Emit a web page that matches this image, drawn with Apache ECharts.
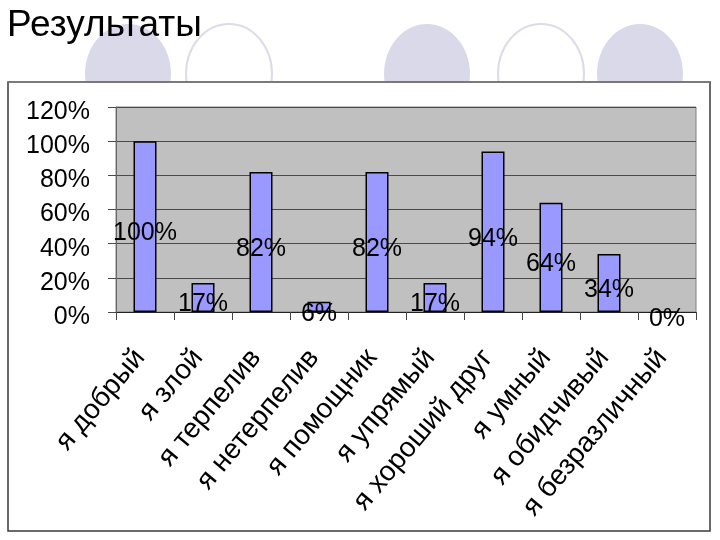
<!DOCTYPE html>
<html><head><meta charset="utf-8">
<script src="https://cdn.jsdelivr.net/npm/echarts@6/dist/echarts.min.js"></script>
<style>html,body{margin:0;padding:0;background:#fff}#c{width:720px;height:540px}</style>
</head><body><div id="c"></div>
<script>
const titleText = 'Результаты';
const categories = ['я добрый','я злой','я терпелив','я нетерпелив','я помощник','я упрямый','я хороший друг','я умный','я обидчивый','я безразличный'];
const values = [100, 17, 82, 6, 82, 17, 94, 64, 34, 0];
const yTicks = {min: 0, max: 120, interval: 20};

const regular = '"Liberation Sans",Arial,sans-serif';

const chart = echarts.init(document.getElementById('c'), null, {renderer: 'canvas'});
const deco = [
  {cx: 128, filled: true}, {cx: 229, filled: false}, {cx: 427, filled: true},
  {cx: 541, filled: false}, {cx: 640, filled: true}
].map(d => ({
  type: 'ellipse', z: -20,
  shape: {cx: d.cx, cy: 74, rx: 43, ry: 50},
  style: d.filled ? {fill: '#d9d9ea'} : {fill: 'none', stroke: '#dcdce8', lineWidth: 2}
}));
chart.setOption({
  backgroundColor: '#fff',
  title: {text: titleText, left: 2, top: 2,
    textStyle: {fontFamily: regular, fontSize: 37, fontWeight: 'normal', color: '#000'}},
  graphic: deco.concat([
    {type: 'rect', z: -10, shape: {x: 8, y: 82, width: 702, height: 449},
     style: {fill: '#fff', stroke: '#3a3a3a', lineWidth: 1.5}},
    {type: 'line', z: -9, shape: {x1: 8, y1: 82, x2: 710, y2: 82},
     style: {stroke: '#808080', lineWidth: 1.5}}
  ]),
  grid: {left: 116, right: 24, top: 107, bottom: 228, show: true,
    backgroundColor: '#c0c0c0', borderColor: '#808080', borderWidth: 1},
  xAxis: {type: 'category', data: categories,
    axisLine: {lineStyle: {color: '#222', width: 1}},
    axisTick: {show: true, length: 8, lineStyle: {color: '#444'}},
    axisLabel: {interval: 0, rotate: 50, margin: 35, padding: [0, 8, 0, 0],
      fontFamily: regular, fontSize: 28, color: '#000'}},
  yAxis: {type: 'value', min: yTicks.min, max: yTicks.max, interval: yTicks.interval,
    axisLine: {show: true, lineStyle: {color: '#666', width: 1}},
    axisTick: {show: true, length: 8, lineStyle: {color: '#4a4a4a'}},
    splitLine: {lineStyle: {color: '#4a4a4a', width: 1}},
    axisLabel: {formatter: '{value}%', margin: 26, fontFamily: regular, fontSize: 25, color: '#000',
      verticalAlign: 'top', lineHeight: 10}},
  series: [{type: 'bar', data: values, barWidth: 23,
    itemStyle: {color: '#9999ff', borderColor: '#000', borderWidth: 1.5},
    label: {show: true, position: 'inside', offset: [0, 7], formatter: '{c}%',
      fontFamily: regular, fontSize: 25, color: '#000'}}],
  animation: false
});
</script></body></html>
